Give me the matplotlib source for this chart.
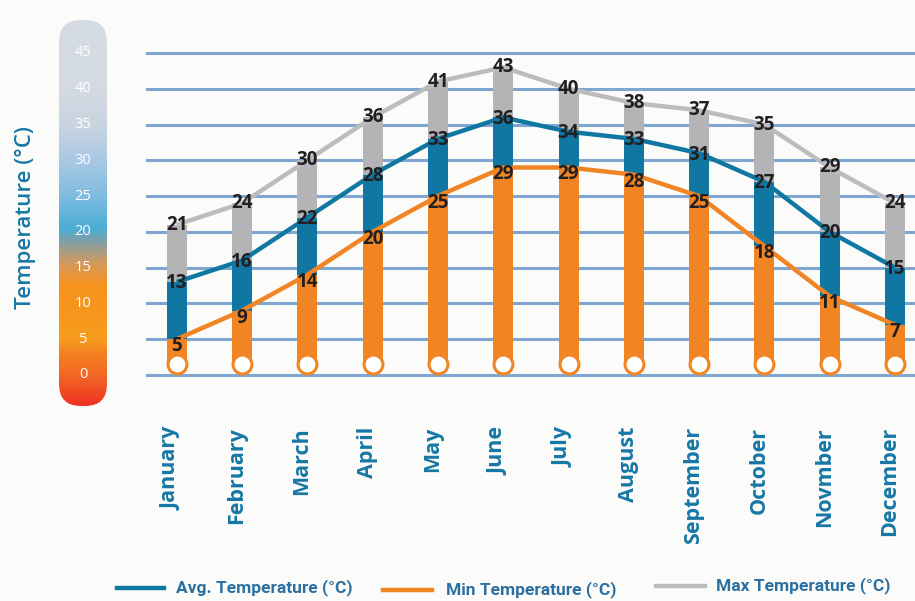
import numpy as np
import matplotlib
matplotlib.use("Agg")
import matplotlib.pyplot as plt
from matplotlib.colors import LinearSegmentedColormap, to_rgb
from matplotlib.patches import FancyBboxPatch
from matplotlib.lines import Line2D
from matplotlib import transforms

# ---- data ----
months = ["January", "February", "March", "April", "May", "June", "July",
          "August", "September", "October", "Novmber", "December"]
avg_temp = [13, 16, 22, 28, 33, 36, 34, 33, 31, 27, 20, 15]
min_temp = [5, 9, 14, 20, 25, 29, 29, 28, 25, 18, 11, 7]
max_temp = [21, 24, 30, 36, 41, 43, 40, 38, 37, 35, 29, 24]
scale_ticks = [0, 5, 10, 15, 20, 25, 30, 35, 40, 45]

# ---- style ----
BG = "#fbfcfa"
ORANGE = "#f18524"
BLUE = "#0f77a2"
GREY = "#b4b4b6"
GREY_LINE = "#bcbcbe"
GRID = "#7ea6d1"
LABEL_BLUE = "#1677a6"
DARK = "#231f20"
FONT = "Open Sans"
BULB_LEVEL = 1.6   # where the bulb sits on each column

W, H = 915, 601
fig = plt.figure(figsize=(W / 100, H / 100), dpi=100, facecolor=BG)

# main plotting area (pixel geometry converted to figure fractions)
ax_l, ax_r, ax_t, ax_b = 147, 915, 53, 375
ax = fig.add_axes([ax_l / W, (H - ax_b) / H, (ax_r - ax_l) / W, (ax_b - ax_t) / H])
ax.set_facecolor("none")
step_px = 65.3
x0_px = 176.7
xl = -(x0_px - ax_l) / step_px
ax.set_xlim(xl, xl + (ax_r - ax_l) / step_px)
ax.set_ylim(0, 45)
ax.axis("off")

for t in scale_ticks:
    ax.axhline(t, color=GRID, lw=2.2, zorder=1, clip_on=False)

x = np.arange(len(months))
mn = np.array(min_temp)
av = np.array(avg_temp)
mx = np.array(max_temp)
bw = 20 / step_px

ax.bar(x, mn - BULB_LEVEL, bottom=BULB_LEVEL, width=bw, color=ORANGE, zorder=2, clip_on=False)
ax.bar(x, av - mn, bottom=mn, width=bw, color=BLUE, zorder=2, clip_on=False)
ax.bar(x, mx - av, bottom=av, width=bw, color=GREY, zorder=2, clip_on=False)
ax.scatter(x, np.full(len(x), BULB_LEVEL), s=185, facecolor="white",
           edgecolor=ORANGE, linewidth=2.2, zorder=3, clip_on=False)

ax.plot(x, mx, color=GREY_LINE, lw=3.2, zorder=4, solid_capstyle="butt", clip_on=False)
ax.plot(x, av, color=BLUE, lw=3.2, zorder=4, solid_capstyle="butt", clip_on=False)
ax.plot(x, mn, color=ORANGE, lw=3.2, zorder=4, solid_capstyle="butt", clip_on=False)

for series, dy in ((max_temp, 0), (avg_temp, -1), (min_temp, -5)):
    for i, v in enumerate(series):
        ax.annotate(str(v), (i, v), xytext=(0, dy), textcoords="offset points",
                    ha="center", va="center", fontsize=13.5, fontweight="bold",
                    family=FONT, color=DARK, zorder=6, annotation_clip=False)

# month names below the columns
lab_tr = transforms.blended_transform_factory(ax.transData, fig.transFigure)
for i, m in enumerate(months):
    ax.annotate(m, (i, (H - 427) / H), xycoords=lab_tr, xytext=(-4, 0),
                textcoords="offset points", rotation=90, ha="center", va="top",
                fontsize=15.5, fontweight="bold", family=FONT, color=LABEL_BLUE,
                annotation_clip=False)

# thermometer-style scale on the left
th_l, th_r, th_t, th_b = 59, 107, 20, 406
tax = fig.add_axes([th_l / W, (H - th_b) / H, (th_r - th_l) / W, (th_b - th_t) / H])
tax.set_xlim(0, th_r - th_l)
tax.set_ylim(0, th_b - th_t)
tax.axis("off")

def val_to_frac(v):
    y_px = ax_b - (ax_b - ax_t) * v / 45.0
    return (th_b - y_px) / (th_b - th_t)

stops = [(-5.0, "#ee3224"), (0, "#f26a24"), (2.5, "#f47d22"), (5, "#f79d1e"),
         (8, "#f7971c"), (12.5, "#f6931f"), (15.5, "#d69a5c"), (18.3, "#8c9e9f"),
         (20.5, "#4aadd6"), (25, "#7fbce0"), (30, "#a9c8e4"), (35, "#c9d4e0"),
         (40, "#d3dae2"), (50, "#d5dce4")]
fr = np.clip([val_to_frac(v) for v, _ in stops], 0, 1)
cmap = LinearSegmentedColormap.from_list(
    "thermo", list(zip(fr, [to_rgb(c) for _, c in stops])))
grad = np.linspace(0, 1, 400).reshape(-1, 1)
im = tax.imshow(grad, cmap=cmap, origin="lower", aspect="auto",
                extent=(0, th_r - th_l, 0, th_b - th_t), vmin=0, vmax=1)
clip = FancyBboxPatch((0, 0), th_r - th_l, th_b - th_t,
                      boxstyle="round,pad=0,rounding_size=22",
                      transform=tax.transData, facecolor="none", edgecolor="none")
tax.add_patch(clip)
im.set_clip_path(clip)

scale_tr = transforms.blended_transform_factory(fig.transFigure, ax.transData)
for t in scale_ticks:
    fig.text(83 / W, t, str(t), transform=scale_tr, ha="center", va="center",
             fontsize=10.5, fontweight="normal", family=FONT, color="white")

fig.text(25 / W, 1 - 218 / H, "Temperature (°C)", rotation=90, ha="center",
         va="center", fontsize=16, fontweight="semibold", family=FONT,
         color=LABEL_BLUE)

# legend row
legend_items = [("Avg. Temperature (°C)", BLUE, 117, 164, 176, 588),
                ("Min Temperature (°C)", ORANGE, 383, 432, 446, 590),
                ("Max Temperature (°C)", GREY_LINE, 656, 705, 716, 586)]
for text, col, l0, l1, tx, ty in legend_items:
    yy = 1 - ty / H
    fig.add_artist(Line2D([l0 / W, l1 / W], [yy, yy], color=col, lw=3.2,
                          transform=fig.transFigure))
    fig.text(tx / W, yy, text, ha="left", va="center", fontsize=12.5,
             fontweight="semibold", family="Roboto", color="#2c70a2")

fig.savefig("out.png", dpi=100, facecolor=BG)
